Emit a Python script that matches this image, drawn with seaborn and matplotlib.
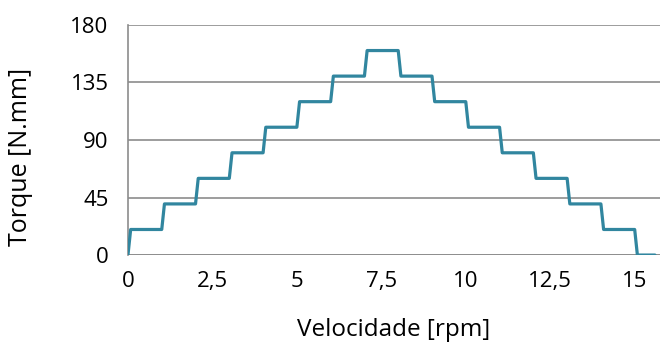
import matplotlib
matplotlib.use("Agg")
import matplotlib.pyplot as plt
import seaborn as sns
import pandas as pd
from matplotlib.ticker import FuncFormatter

sns.set_style("white")
plt.rcParams['font.family'] = ['Open Sans', 'DejaVu Sans']

velocidade = [0, 0.08, 1, 1.08, 2, 2.08, 3, 3.08, 4, 4.08, 5, 5.08, 6, 6.08, 7, 7.08,
              8, 8.08, 9, 9.08, 10, 10.08, 11, 11.08, 12, 12.08, 13, 13.08, 14, 14.08,
              15, 15.08, 15.6]
torque = [0, 20, 20, 40, 40, 60, 60, 80, 80, 100, 100, 120, 120, 140, 140, 160,
          160, 140, 140, 120, 120, 100, 100, 80, 80, 60, 60, 40, 40, 20,
          20, 0, 0]
x_ticks = [0, 2.5, 5, 7.5, 10, 12.5, 15]
y_ticks = [0, 45, 90, 135, 180]

df = pd.DataFrame({"Velocidade": velocidade, "Torque": torque})

fig = plt.figure(figsize=(6.63, 3.47), dpi=100)
ax = fig.add_axes([0.193, 0.265, 0.802, 0.663])

sns.lineplot(data=df, x="Velocidade", y="Torque", ax=ax, sort=False,
             color="#31869F", linewidth=2.3, estimator=None, zorder=3)

grid_c = "#8C8C8C"
ax.set_xlim(0, 15.74)
ax.set_ylim(0, 180)
ax.set_yticks(y_ticks)
ax.set_xticks(x_ticks)
ax.xaxis.set_major_formatter(FuncFormatter(
    lambda v, p: (f"{v:g}").replace(".", ",")))
ax.yaxis.grid(True, color=grid_c, linewidth=1.2)
ax.xaxis.grid(False)
for s in ["top", "right", "bottom"]:
    ax.spines[s].set_visible(False)
ax.spines["left"].set_color(grid_c)
ax.spines["left"].set_linewidth(1.2)
ax.axhline(0, color=grid_c, linewidth=1.2, zorder=2)
ax.tick_params(axis="both", which="both", direction="out",
               width=1.2, color=grid_c, labelsize=16, labelcolor="black")
ax.tick_params(axis="x", length=4.5, pad=7)
ax.tick_params(axis="y", length=6, pad=8)
ax.set_xlabel("Velocidade [rpm]", fontsize=17.5, labelpad=19, color="black")
ax.set_ylabel("Torque [N.mm]", fontsize=18, color="black")
ax.yaxis.set_label_coords(-0.179, 0.426)

fig.savefig("out.png", dpi=100)
